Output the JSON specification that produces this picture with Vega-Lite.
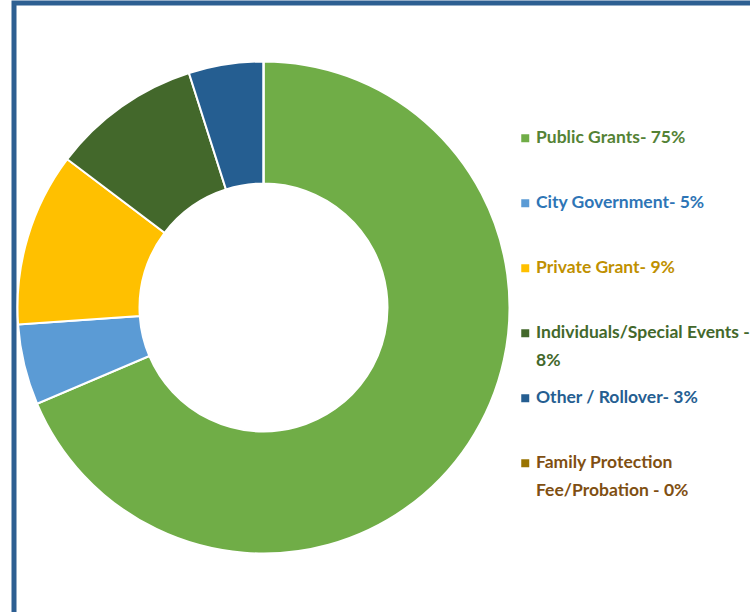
{
  "$schema": "https://vega.github.io/schema/vega-lite/v6.json",
  "background": "white",
  "padding": {"left": 11, "top": 0, "right": 0, "bottom": 0},
  "spacing": 0,
  "bounds": "flush",
  "config": {"view": {"stroke": null}, "style": {"guide-label": {"lineHeight": 27.5, "ellipsis": ""}}},
  "hconcat": [
    {
      "width": 499,
      "height": 609,
      "view": {"fill": "white", "stroke": "#2D5F92", "strokeWidth": 5, "strokeDash": [1108, 1108], "strokeDashOffset": 609},
      "data": {"values": [
        {"source": "Public Grants- 75%", "share": 68.6, "rank": 1},
        {"source": "City Government- 5%", "share": 5.3, "rank": 2},
        {"source": "Private Grant- 9%", "share": 11.4, "rank": 3},
        {"source": "Individuals/Special Events - 8%", "share": 9.8, "rank": 4},
        {"source": "Other / Rollover- 3%", "share": 4.9, "rank": 5},
        {"source": "Family Protection Fee/Probation - 0%", "share": 0, "rank": 6}
      ]},
      "mark": {"type": "arc", "outerRadius": 246, "innerRadius": 124, "stroke": "white", "strokeWidth": 2},
      "encoding": {
        "theta": {"field": "share", "type": "quantitative", "stack": true},
        "order": {"field": "rank", "type": "quantitative"},
        "color": {
          "field": "source",
          "type": "nominal",
          "scale": {
            "domain": ["Public Grants- 75%", "City Government- 5%", "Private Grant- 9%", "Individuals/Special Events - 8%", "Other / Rollover- 3%", "Family Protection Fee/Probation - 0%"],
            "range": ["#70AD47", "#5B9BD5", "#FFC000", "#43682B", "#255E91", "#997300"]
          },
          "legend": {
            "orient": "none",
            "legendX": 502.5,
            "legendY": 126.5,
            "title": null,
            "symbolType": "square",
            "symbolSize": 64,
            "symbolStrokeWidth": 0,
            "labelFont": "Lato",
            "labelFontSize": 17.5,
            "labelFontWeight": "bold",
            "labelLimit": 216,
            "labelOffset": 2,
            "rowPadding": 19,
            "labelColor": {"expr": "['#548235','#2E75B6','#BF9000','#43682B','#255E91','#7F4F12'][indexof(['Public Grants- 75%','City Government- 5%','Private Grant- 9%','Individuals/Special Events - 8%','Other / Rollover- 3%','Family Protection Fee/Probation - 0%'], datum.value)]"},
            "labelExpr": "datum.label == 'Individuals/Special Events - 8%' ? ['Individuals/Special Events -', '8%'] : datum.label == 'Family Protection Fee/Probation - 0%' ? ['Family Protection', 'Fee/Probation - 0%'] : [datum.label, '']"
          }
        }
      }
    },
    {
      "width": 237,
      "height": 609,
      "view": {"fill": null, "stroke": "#2D5F92", "strokeWidth": 5, "strokeDash": [237, 2000]},
      "data": {"values": []},
      "mark": "point",
      "encoding": {}
    }
  ]
}
